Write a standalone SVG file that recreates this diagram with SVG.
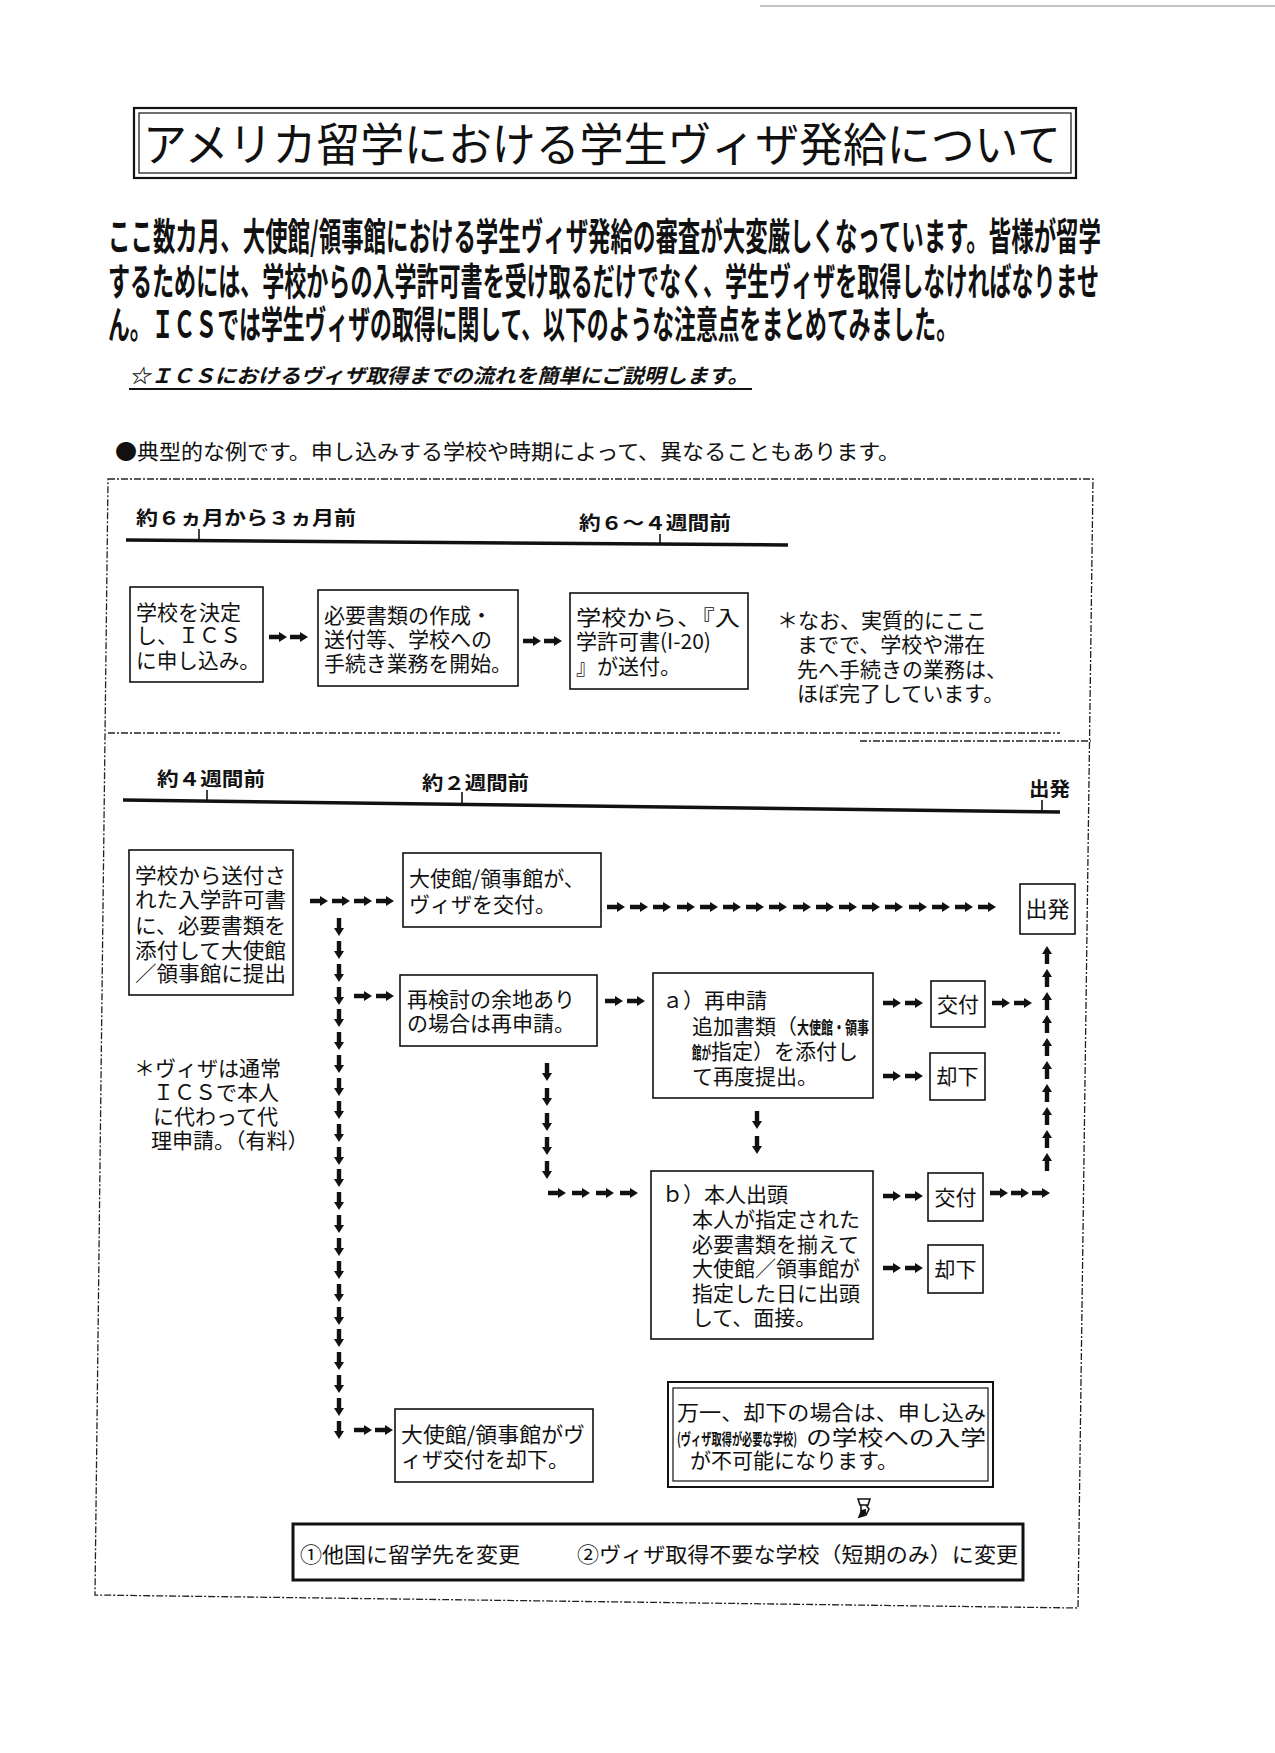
<svg xmlns="http://www.w3.org/2000/svg" width="1275" height="1753" viewBox="0 0 1275 1753">
<style>
text{font-family:"Noto Sans CJK JP","Noto Sans CJK SC",sans-serif;fill:#111}
.t{font-size:21px}
.b{font-weight:bold}
.lbl{font-size:19px;font-weight:bold}
.box{fill:#fff;stroke:#111;stroke-width:1.6}
.dash{fill:none;stroke:#222;stroke-width:1.3;stroke-dasharray:7 2 2 2}
.tl{stroke:#111;stroke-width:3.5;fill:none}
.tick{stroke:#111;stroke-width:1.6}
.arr{fill:#111}
</style>
<defs>
<path id="ar" class="arr" d="M0,-2.2 H10 V-5 L18,0 L10,5 V2.2 H0 Z"/>
<path id="ad" class="arr" d="M-2.2,0 V10 H-5 L0,18 L5,10 H2.2 V0 Z"/>
<path id="au" class="arr" d="M-2.2,18 V8 H-5 L0,0 L5,8 H2.2 V18 Z"/>
</defs>
<rect width="1275" height="1753" fill="#fff"/>
<line x1="760" y1="6" x2="1275" y2="6" stroke="#888" stroke-width="1"/>

<g id="title">
<rect x="134" y="108" width="942" height="70" fill="none" stroke="#111" stroke-width="2.2"/>
<rect x="139" y="113" width="932" height="60" fill="none" stroke="#111" stroke-width="1.2"/>
<text x="143" y="161" font-size="46" textLength="918" lengthAdjust="spacingAndGlyphs">アメリカ留学における学生ヴィザ発給について</text>
</g>

<g id="intro">
<text class="b" x="108" y="250" font-size="38" textLength="993" lengthAdjust="spacingAndGlyphs">ここ数カ月、大使館/領事館における学生ヴィザ発給の審査が大変厳しくなっています。皆様が留学</text>
<text class="b" x="108" y="295" font-size="38" textLength="991" lengthAdjust="spacingAndGlyphs">するためには、学校からの入学許可書を受け取るだけでなく、学生ヴィザを取得しなければなりませ</text>
<text class="b" x="108" y="338" font-size="38" textLength="850" lengthAdjust="spacingAndGlyphs">ん。ＩＣＳでは学生ヴィザの取得に関して、以下のような注意点をまとめてみました。</text>
<text class="b" x="129" y="383" font-size="20" font-style="italic" textLength="620" lengthAdjust="spacingAndGlyphs">☆ＩＣＳにおけるヴィザ取得までの流れを簡単にご説明します。</text>
<line x1="129" y1="389" x2="752" y2="389" stroke="#111" stroke-width="2"/>
<text x="115" y="459" font-size="21" textLength="785" lengthAdjust="spacingAndGlyphs">●典型的な例です。申し込みする学校や時期によって、異なることもあります。</text>
</g>

<g id="frame">
<path class="dash" d="M108,479 L1093,479 L1078,1608 L95,1595 Z"/>
<line class="dash" x1="108" y1="733" x2="1060" y2="733"/>
<line class="dash" x1="860" y1="741" x2="1091" y2="741"/>
</g>

<g id="timeline1">
<text class="lbl" x="136" y="525" textLength="220" lengthAdjust="spacingAndGlyphs">約６ヵ月から３ヵ月前</text>
<text class="lbl" x="579" y="530" textLength="152" lengthAdjust="spacingAndGlyphs">約６～４週間前</text>
<path class="tl" d="M126,540 L788,545"/>
<line class="tick" x1="199" y1="529" x2="199" y2="540"/>
<line class="tick" x1="660" y1="534" x2="660" y2="545"/>
</g>

<g id="n1">
<rect class="box" x="130" y="587" width="133" height="95"/>
<text class="t" x="136" y="620">学校を決定</text>
<text class="t" x="136" y="643">し、ＩＣＳ</text>
<text class="t" x="136" y="668" textLength="124" lengthAdjust="spacingAndGlyphs">に申し込み。</text>
</g>
<g id="n2">
<rect class="box" x="318" y="590" width="200" height="96"/>
<text class="t" x="324" y="623">必要書類の作成・</text>
<text class="t" x="324" y="647">送付等、学校への</text>
<text class="t" x="324" y="671" textLength="188" lengthAdjust="spacingAndGlyphs">手続き業務を開始。</text>
</g>
<g id="n3">
<rect class="box" x="570" y="593" width="178" height="96"/>
<text class="t" x="576" y="625" textLength="164" lengthAdjust="spacingAndGlyphs">学校から、『入</text>
<text class="t" x="576" y="649">学許可書(I-20)</text>
<text class="t" x="576" y="674">』が送付。</text>
</g>
<g id="note1">
<text class="t" x="777" y="628">＊なお、実質的にここ</text>
<text class="t" x="797" y="652">までで、学校や滞在</text>
<text class="t" x="797" y="677">先へ手続きの業務は、</text>
<text class="t" x="797" y="701">ほぼ完了しています。</text>
</g>

<g id="timeline2">
<text class="lbl" x="157" y="786" textLength="108" lengthAdjust="spacingAndGlyphs">約４週間前</text>
<text class="lbl" x="422" y="790" textLength="107" lengthAdjust="spacingAndGlyphs">約２週間前</text>
<text class="lbl" x="1029" y="796" textLength="41" lengthAdjust="spacingAndGlyphs">出発</text>
<path class="tl" d="M123,800 L1060,812"/>
<line class="tick" x1="207" y1="790" x2="207" y2="801"/>
<line class="tick" x1="462" y1="792" x2="462" y2="804"/>
<line class="tick" x1="1042" y1="800" x2="1042" y2="811"/>
</g>

<g id="nA">
<rect class="box" x="129" y="850" width="164" height="145"/>
<text class="t" x="135" y="883" textLength="151" lengthAdjust="spacingAndGlyphs">学校から送付さ</text>
<text class="t" x="135" y="907" textLength="151" lengthAdjust="spacingAndGlyphs">れた入学許可書</text>
<text class="t" x="135" y="933" textLength="151" lengthAdjust="spacingAndGlyphs">に、必要書類を</text>
<text class="t" x="135" y="958" textLength="151" lengthAdjust="spacingAndGlyphs">添付して大使館</text>
<text class="t" x="135" y="981" textLength="151" lengthAdjust="spacingAndGlyphs">／領事館に提出</text>
</g>
<g id="nB">
<rect class="box" x="403" y="853" width="198" height="74"/>
<text class="t" x="409" y="886">大使館/領事館が、</text>
<text class="t" x="409" y="912">ヴィザを交付。</text>
</g>
<g id="nDep">
<rect class="box" x="1020" y="884" width="55" height="50"/>
<text x="1047.5" y="917" font-size="22" text-anchor="middle">出発</text>
</g>
<g id="nC">
<rect class="box" x="400" y="975" width="197" height="71"/>
<text class="t" x="407" y="1007">再検討の余地あり</text>
<text class="t" x="407" y="1031">の場合は再申請。</text>
</g>
<g id="nD">
<rect class="box" x="653" y="973" width="220" height="125"/>
<text class="t" x="662" y="1008">ａ）再申請</text>
<text class="t" x="692" y="1034">追加書類（<tspan class="b" font-size="17" textLength="72" lengthAdjust="spacingAndGlyphs">大使館・領事</tspan></text>
<text class="t" x="692" y="1059"><tspan class="b" font-size="17" textLength="19" lengthAdjust="spacingAndGlyphs">館が</tspan>指定）を添付し</text>
<text class="t" x="692" y="1084">て再度提出。</text>
</g>
<g id="nK1">
<rect class="box" x="931" y="981" width="54" height="46"/>
<text x="958" y="1012" font-size="21" text-anchor="middle">交付</text>
</g>
<g id="nR1">
<rect class="box" x="930" y="1053" width="55" height="47"/>
<text x="957.5" y="1084" font-size="21" text-anchor="middle">却下</text>
</g>
<g id="noteL">
<text class="t" x="134" y="1076">＊ヴィザは通常</text>
<text class="t" x="153" y="1100">ＩＣＳで本人</text>
<text class="t" x="153" y="1124">に代わって代</text>
<text class="t" x="151" y="1148">理申請。（有料）</text>
</g>
<g id="nE">
<rect class="box" x="651" y="1171" width="222" height="168"/>
<text class="t" x="662" y="1202">ｂ）本人出頭</text>
<text class="t" x="692" y="1227">本人が指定された</text>
<text class="t" x="692" y="1252">必要書類を揃えて</text>
<text class="t" x="692" y="1276">大使館／領事館が</text>
<text class="t" x="692" y="1301">指定した日に出頭</text>
<text class="t" x="692" y="1325">して、面接。</text>
</g>
<g id="nK2">
<rect class="box" x="928" y="1173" width="55" height="48"/>
<text x="955.5" y="1205" font-size="21" text-anchor="middle">交付</text>
</g>
<g id="nR2">
<rect class="box" x="928" y="1245" width="55" height="48"/>
<text x="955.5" y="1277" font-size="21" text-anchor="middle">却下</text>
</g>
<g id="nF">
<rect class="box" x="395" y="1409" width="198" height="73"/>
<text class="t" x="401" y="1442" textLength="184" lengthAdjust="spacingAndGlyphs">大使館/領事館がヴ</text>
<text class="t" x="401" y="1467">ィザ交付を却下。</text>
</g>
<g id="nG">
<rect x="668" y="1382" width="325" height="105" fill="#fff" stroke="#111" stroke-width="2"/>
<rect x="673" y="1388" width="315" height="93" fill="none" stroke="#111" stroke-width="1.2"/>
<text class="t" x="677" y="1420" textLength="309" lengthAdjust="spacingAndGlyphs">万一、却下の場合は、申し込み</text>
<text class="t" x="677" y="1445"><tspan class="b" font-size="16" textLength="120" lengthAdjust="spacingAndGlyphs">(ヴィザ取得が必要な学校)</tspan><tspan x="806" textLength="180" lengthAdjust="spacingAndGlyphs">の学校への入学</tspan></text>
<text class="t" x="690" y="1468">が不可能になります。</text>
</g>
<g id="nH">
<rect x="293" y="1524" width="730" height="56" fill="#fff" stroke="#111" stroke-width="3"/>
<text class="t" x="300" y="1562" textLength="220" lengthAdjust="spacingAndGlyphs">①他国に留学先を変更</text>
<text class="t" x="577" y="1562" textLength="441" lengthAdjust="spacingAndGlyphs">②ヴィザ取得不要な学校（短期のみ）に変更</text>
</g>

<g id="connectors">
<use href="#ar" x="269" y="637"/><use href="#ar" x="290" y="637"/>
<use href="#ar" x="523" y="641"/><use href="#ar" x="544" y="641"/>
<use href="#ar" x="310" y="901"/><use href="#ar" x="332" y="901"/><use href="#ar" x="354" y="901"/><use href="#ar" x="376" y="901"/>
<use href="#ad" x="339" y="918"/><use href="#ad" x="339" y="941"/><use href="#ad" x="339" y="964"/><use href="#ad" x="339" y="987"/>
<use href="#ad" x="339" y="1009"/><use href="#ad" x="339" y="1032"/><use href="#ad" x="339" y="1055"/><use href="#ad" x="339" y="1078"/>
<use href="#ad" x="339" y="1101"/><use href="#ad" x="339" y="1124"/><use href="#ad" x="339" y="1147"/><use href="#ad" x="339" y="1169"/>
<use href="#ad" x="339" y="1192"/><use href="#ad" x="339" y="1215"/><use href="#ad" x="339" y="1238"/><use href="#ad" x="339" y="1261"/>
<use href="#ad" x="339" y="1284"/><use href="#ad" x="339" y="1307"/><use href="#ad" x="339" y="1329"/><use href="#ad" x="339" y="1352"/>
<use href="#ad" x="339" y="1375"/><use href="#ad" x="339" y="1398"/><use href="#ad" x="339" y="1421"/>
<use href="#ar" x="354" y="996"/><use href="#ar" x="376" y="996"/>
<use href="#ar" x="354" y="1430"/><use href="#ar" x="375" y="1430"/>
<use href="#ar" x="607" y="907"/><use href="#ar" x="630" y="907"/><use href="#ar" x="653" y="907"/><use href="#ar" x="677" y="907"/>
<use href="#ar" x="700" y="907"/><use href="#ar" x="723" y="907"/><use href="#ar" x="746" y="907"/><use href="#ar" x="769" y="907"/>
<use href="#ar" x="793" y="907"/><use href="#ar" x="816" y="907"/><use href="#ar" x="839" y="907"/><use href="#ar" x="862" y="907"/>
<use href="#ar" x="885" y="907"/><use href="#ar" x="909" y="907"/><use href="#ar" x="932" y="907"/><use href="#ar" x="955" y="907"/>
<use href="#ar" x="978" y="907"/>
<use href="#ar" x="605" y="1001"/><use href="#ar" x="627" y="1001"/>
<use href="#ar" x="883" y="1003"/><use href="#ar" x="905" y="1003"/>
<use href="#ar" x="992" y="1003"/><use href="#ar" x="1014" y="1003"/>
<use href="#ar" x="883" y="1076"/><use href="#ar" x="905" y="1076"/>
<use href="#au" x="1047" y="946"/><use href="#au" x="1047" y="969"/><use href="#au" x="1047" y="992"/><use href="#au" x="1047" y="1015"/>
<use href="#au" x="1047" y="1038"/><use href="#au" x="1047" y="1061"/><use href="#au" x="1047" y="1084"/><use href="#au" x="1047" y="1107"/>
<use href="#au" x="1047" y="1130"/><use href="#au" x="1047" y="1153"/>
<use href="#ad" x="547" y="1063"/><use href="#ad" x="547" y="1088"/><use href="#ad" x="547" y="1113"/><use href="#ad" x="547" y="1137"/><use href="#ad" x="547" y="1161"/>
<use href="#ar" x="548" y="1193"/><use href="#ar" x="572" y="1193"/><use href="#ar" x="596" y="1193"/><use href="#ar" x="620" y="1193"/>
<use href="#ad" x="757" y="1111"/><use href="#ad" x="757" y="1136"/>
<use href="#ar" x="883" y="1196"/><use href="#ar" x="905" y="1196"/>
<use href="#ar" x="990" y="1193"/><use href="#ar" x="1011" y="1193"/><use href="#ar" x="1032" y="1193"/>
<use href="#ar" x="883" y="1268"/><use href="#ar" x="905" y="1268"/>
<path d="M858,1499 H870 L868,1505 H860 Z M861,1505 V1512 L859,1517 L866,1515 L869,1509 L866,1505" fill="none" stroke="#111" stroke-width="1.6"/>
<path d="M861,1510 L866,1509 L866,1514 L860,1517 Z" fill="#111"/>
</g>
</svg>
